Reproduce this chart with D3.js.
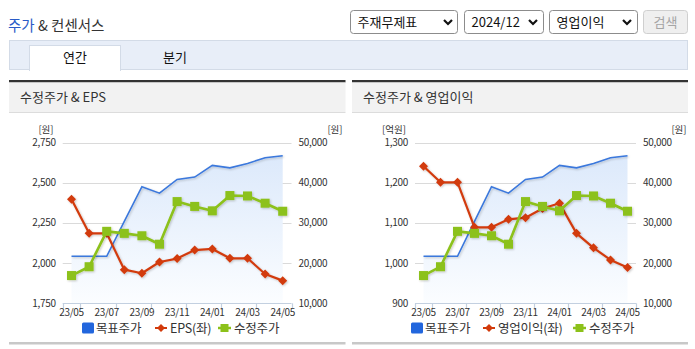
<!DOCTYPE html>
<html>
<head>
<meta charset="utf-8">
<script src="https://cdn.jsdelivr.net/npm/d3@7"></script>
<style>
  html, body { margin: 0; padding: 0; background: #fff; }
  svg { display: block; font-family: "Noto Sans CJK KR", "Noto Sans", sans-serif; }
</style>
</head>
<body>
<svg id="page" width="695" height="349"></svg>
<script>
// Monthly categories and axis labels
const months = ["23/05","23/06","23/07","23/08","23/09","23/10","23/11","23/12","24/01","24/02","24/03","24/04","24/05"];
const monthLabels = ["23/05","23/07","23/09","23/11","24/01","24/03","24/05"];

// Series (원 / 억원)
const targetPrice = [21700,21700,21700,30400,39000,37400,40800,41400,44300,43700,44800,46200,46700];
const adjPrice    = [16900,19100,27900,27400,26800,24700,35300,34100,33000,36800,36700,34900,32900];
const eps         = [2397,2185,2185,1959,1937,2007,2028,2081,2088,2030,2030,1932,1891];
const opProfit    = [1241,1201,1201,1089,1089,1109,1113,1136,1149,1074,1038,1008,989];

// Axis ticks
const priceTicks = [10000,20000,30000,40000,50000];
const epsTicks   = [1750,2000,2250,2500,2750];
const opTicks    = [900,1000,1100,1200,1300];

// Selector texts
const selectorTexts = ["주재무제표","2024/12","영업이익"];

const svg = d3.select("#page");
const defs = svg.append("defs");

const grad = defs.append("linearGradient").attr("id","areaGrad").attr("x1",0).attr("y1",0).attr("x2",0).attr("y2",1);
grad.append("stop").attr("offset","0%").attr("stop-color","#dce9fb");
grad.append("stop").attr("offset","100%").attr("stop-color","#fbfdff");

const shadow = defs.append("filter").attr("id","shadow").attr("x","-10%").attr("y","-10%").attr("width","130%").attr("height","130%");
shadow.append("feDropShadow").attr("dx",1).attr("dy",1).attr("stdDeviation",0.8).attr("flood-color","#000").attr("flood-opacity",0.22);

// ---------- Header ----------
const title = svg.append("text").attr("x",8).attr("y",31).attr("font-size",14.5);
title.append("tspan").attr("fill","#2a5bc7").text("주가");
title.append("tspan").attr("fill","#333").text(" & 컨센서스");

// Selectors
const selectors = [
  {x:350, w:107, chev:448},
  {x:464, w:79, chev:533},
  {x:549, w:88, chev:627}
];
selectors.forEach((s,i) => {
  svg.append("rect").attr("x",s.x+0.5).attr("y",10.5).attr("width",s.w).attr("height",23)
    .attr("rx",3).attr("fill","#fff").attr("stroke","#8c8c8c");
  svg.append("text").attr("x",s.x+7.5).attr("y",26.5).attr("font-size",13).attr("fill","#111")
    .text(selectorTexts[i]);
  svg.append("path").attr("d",`M${s.chev-4},${20} L${s.chev},${24} L${s.chev+4},${20}`)
    .attr("fill","none").attr("stroke","#111").attr("stroke-width",2.2);
});
svg.append("rect").attr("x",643.5).attr("y",10.5).attr("width",44).attr("height",23)
  .attr("rx",3).attr("fill","#efefef").attr("stroke","#cfcfcf");
svg.append("text").attr("x",665.5).attr("y",26.5).attr("text-anchor","middle").attr("font-size",13)
  .attr("fill","#a5a5a5").text("검색");

// Tabs
svg.append("rect").attr("x",9.5).attr("y",40.5).attr("width",678).attr("height",29)
  .attr("fill","#e8eef8").attr("stroke","#d3dbe7");
svg.append("rect").attr("x",29.5).attr("y",45.5).attr("width",91).attr("height",25)
  .attr("fill","#fff").attr("stroke","#d3dbe7");
svg.append("rect").attr("x",30).attr("y",68).attr("width",90).attr("height",3).attr("fill","#fff");
svg.append("text").attr("x",75).attr("y",62).attr("text-anchor","middle").attr("font-size",13).attr("fill","#111").text("연간");
svg.append("text").attr("x",175).attr("y",62).attr("text-anchor","middle").attr("font-size",13).attr("fill","#111").text("분기");

// ---------- Charts ----------
const plotTop = 142.5, plotBottom = 303.3;

function drawChart(cfg) {
  const g = svg.append("g");
  // Panel frame
  g.append("rect").attr("x",cfg.px).attr("y",80).attr("width",cfg.pw).attr("height",2.5).attr("fill","#333");
  g.append("rect").attr("x",cfg.px).attr("y",82.5).attr("width",cfg.pw).attr("height",29.5).attr("fill","#f2f2f2");
  g.append("line").attr("x1",cfg.px).attr("x2",cfg.px+cfg.pw).attr("y1",112.5).attr("y2",112.5).attr("stroke","#dcdcdc");
  g.append("text").attr("x",cfg.px+11).attr("y",102).attr("font-size",13).attr("fill","#333").text(cfg.title);
  g.append("rect").attr("x",cfg.px).attr("y",342).attr("width",cfg.pw).attr("height",2.5).attr("fill","#c8c8c8");

  const x = d3.scaleBand().domain(months).range([cfg.left, cfg.right]).padding(0);
  const cx = d => x(d) + x.bandwidth()/2;
  const yL = d3.scaleLinear().domain(cfg.leftDomain).range([plotBottom, plotTop]);
  const yR = d3.scaleLinear().domain([10000,50000]).range([plotBottom, plotTop]);

  // Grid
  g.append("g").selectAll("line").data(cfg.leftTicks.slice(1)).join("line")
    .attr("x1",cfg.left).attr("x2",cfg.right)
    .attr("y1",d => Math.round(yL(d))+0.5).attr("y2",d => Math.round(yL(d))+0.5)
    .attr("stroke","#dadada");

  // Left axis labels
  g.append("g").selectAll("text").data(cfg.leftTicks).join("text")
    .attr("x",cfg.left-7).attr("y",d => yL(d)+3.5).attr("text-anchor","end")
    .attr("font-size",10).attr("fill","#333").attr("letter-spacing",-0.3)
    .text(d => d3.format(",")(d));
  // Right axis labels
  g.append("g").selectAll("text").data(priceTicks).join("text")
    .attr("x",cfg.right+7).attr("y",d => yR(d)+3.5).attr("text-anchor","start")
    .attr("font-size",10).attr("fill","#333").attr("letter-spacing",-0.3)
    .text(d => d3.format(",")(d));
  // Units
  g.append("text").attr("x",cfg.unitLX).attr("y",132.5).attr("text-anchor","middle").attr("font-size",9.5).attr("fill","#333").text(cfg.leftUnit);
  g.append("text").attr("x",cfg.unitRX).attr("y",132.5).attr("text-anchor","middle").attr("font-size",9.5).attr("fill","#333").text("[원]");

  // Target price area + line
  const area = d3.area().x((d,i) => cx(months[i])).y0(plotBottom).y1(d => yR(d));
  g.append("path").datum(targetPrice).attr("d",area).attr("fill","url(#areaGrad)");
  const lineR = d3.line().x((d,i) => cx(months[i])).y(d => yR(d));
  g.append("path").datum(targetPrice).attr("d",lineR).attr("fill","none")
    .attr("stroke","#3b78dc").attr("stroke-width",1.6).attr("filter","url(#shadow)");

  // Bottom axis
  const axisG = g.append("g");
  axisG.append("line").attr("x1",cfg.left).attr("x2",cfg.right).attr("y1",plotBottom+0.2).attr("y2",plotBottom+0.2)
    .attr("stroke","#c3d0e0").attr("stroke-width",1.2);
  const tickPos = [cfg.left].concat(months.filter((m,i) => i % 2 === 0 && i < months.length-1).map(m => x(m)+x.bandwidth()), [cfg.right]);
  axisG.selectAll("line.tick").data(tickPos).join("line").attr("class","tick")
    .attr("x1",d => Math.round(d)+0.5).attr("x2",d => Math.round(d)+0.5)
    .attr("y1",plotBottom).attr("y2",plotBottom+5).attr("stroke","#c3d0e0").attr("stroke-width",1.2);
  axisG.selectAll("text").data(monthLabels).join("text")
    .attr("x",d => cx(d)).attr("y",316).attr("text-anchor","middle")
    .attr("font-size",10).attr("fill","#333").attr("letter-spacing",-0.3).text(d => d);

  // Left-axis series (red)
  const lineL = d3.line().x((d,i) => cx(months[i])).y(d => yL(d));
  const redG = g.append("g").attr("filter","url(#shadow)");
  redG.append("path").datum(cfg.leftSeries).attr("d",lineL).attr("fill","none")
    .attr("stroke","#d23a0b").attr("stroke-width",2.2).attr("stroke-linejoin","round");
  redG.selectAll("path.m").data(cfg.leftSeries).join("path").attr("class","m")
    .attr("d",(d,i) => { const px = cx(months[i]), py = yL(d); return `M${px},${py-4.5} L${px+4.5},${py} L${px},${py+4.5} L${px-4.5},${py} Z`; })
    .attr("fill","#d23a0b");

  // Adjusted price (green)
  const greenG = g.append("g").attr("filter","url(#shadow)");
  greenG.append("path").datum(adjPrice).attr("d",lineR).attr("fill","none")
    .attr("stroke","#8cc11a").attr("stroke-width",2.6).attr("stroke-linejoin","round");
  greenG.selectAll("rect").data(adjPrice).join("rect")
    .attr("x",(d,i) => cx(months[i])-4.5).attr("y",d => yR(d)-4.5)
    .attr("width",9).attr("height",9).attr("fill","#8cc11a");

  // Legend
  const lg = g.append("g");
  const ly = 328;
  const lfs = 12.5;
  lg.append("rect").attr("x",cfg.legX).attr("y",ly-5.5).attr("width",12).attr("height",11).attr("rx",1.5).attr("fill","#2266dd");
  lg.append("text").attr("x",cfg.legX+14).attr("y",ly+4.5).attr("font-size",lfs).attr("letter-spacing",-0.2).attr("fill","#333").text("목표주가");
  const r0 = cfg.legX + cfg.legRedOff;
  lg.append("line").attr("x1",r0).attr("x2",r0+12).attr("y1",ly).attr("y2",ly).attr("stroke","#d23a0b").attr("stroke-width",2);
  lg.append("path").attr("d",`M${r0+6},${ly-4} L${r0+10},${ly} L${r0+6},${ly+4} L${r0+2},${ly} Z`).attr("fill","#d23a0b");
  lg.append("text").attr("x",r0+15).attr("y",ly+4.5).attr("font-size",lfs).attr("letter-spacing",-0.2).attr("fill","#333").text(cfg.leftName);
  const g0 = cfg.legX + cfg.legGreenOff;
  lg.append("line").attr("x1",g0).attr("x2",g0+13).attr("y1",ly).attr("y2",ly).attr("stroke","#8cc11a").attr("stroke-width",2.5);
  lg.append("rect").attr("x",g0+2.5).attr("y",ly-4).attr("width",8).attr("height",8).attr("fill","#8cc11a");
  lg.append("text").attr("x",g0+16).attr("y",ly+4.5).attr("font-size",lfs).attr("letter-spacing",-0.2).attr("fill","#333").text("수정주가");
}

drawChart({
  px: 9, pw: 336.5, title: "수정주가 & EPS",
  left: 62.7, right: 291.5,
  leftDomain: [1750, 2750], leftTicks: epsTicks, leftSeries: eps,
  leftUnit: "[원]", unitLX: 46, unitRX: 335,
  leftName: "EPS(좌)",
  legX: 82, legRedOff: 73, legGreenOff: 136
});

drawChart({
  px: 352, pw: 336, title: "수정주가 & 영업이익",
  left: 415, right: 636,
  leftDomain: [900, 1300], leftTicks: opTicks, leftSeries: opProfit,
  leftUnit: "[억원]", unitLX: 394, unitRX: 679,
  leftName: "영업이익(좌)",
  legX: 411, legRedOff: 72, legGreenOff: 162
});
</script>
</body>
</html>
